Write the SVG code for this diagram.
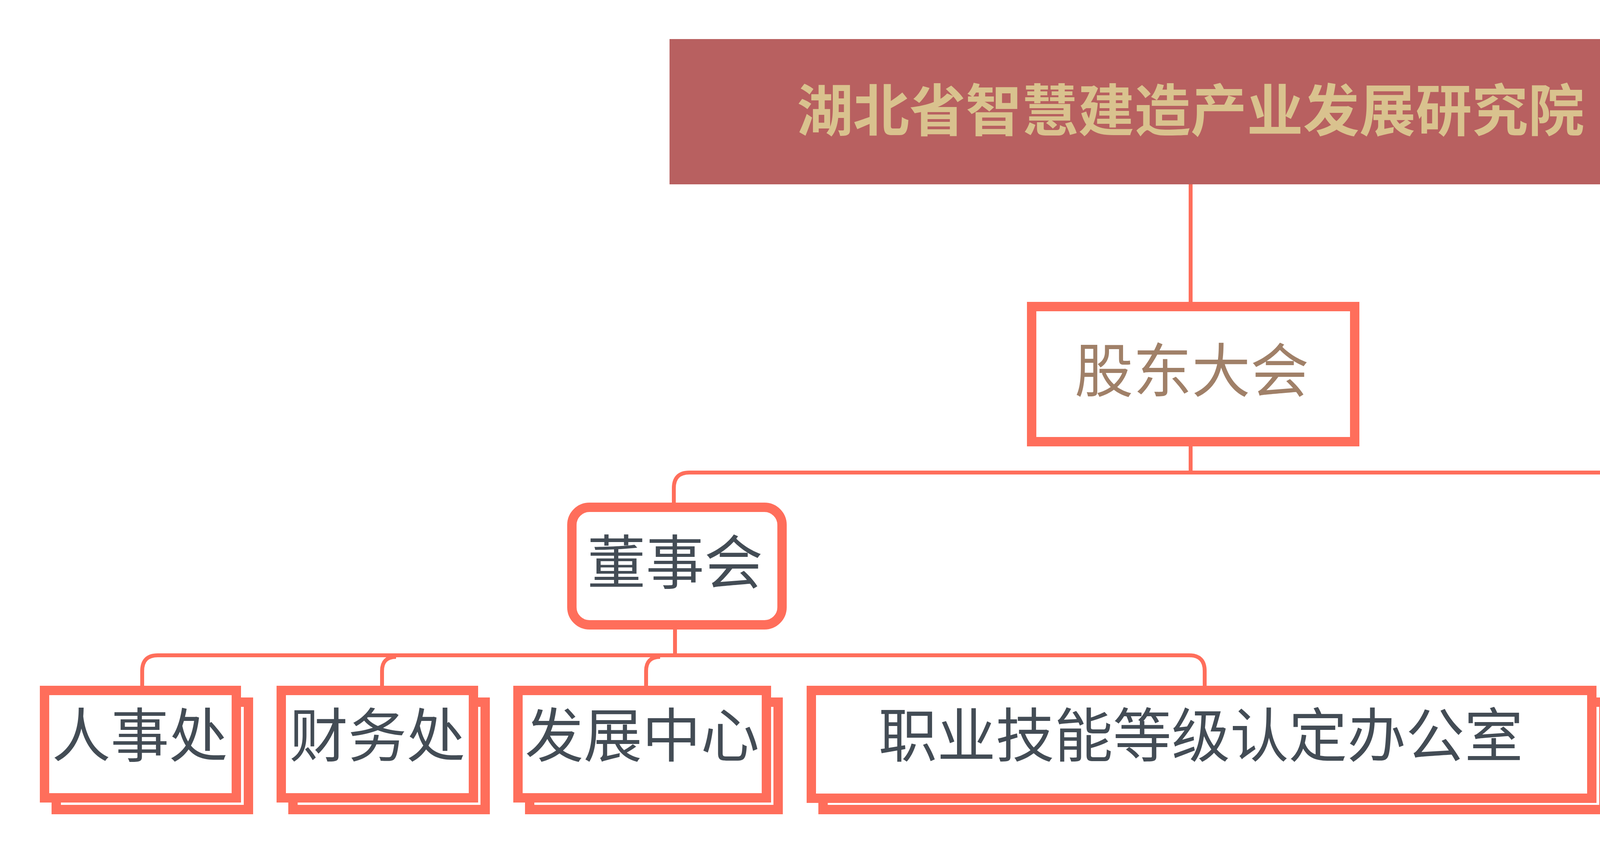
<svg xmlns="http://www.w3.org/2000/svg" width="4676" height="2174" viewBox="0 0 4676 2174">
<style>
.t{font-family:"Liberation Sans","Noto Sans CJK SC",sans-serif;font-size:150px;text-anchor:middle;fill:#434c55}
.b{fill:#fff;stroke:#ff6e5b;stroke-width:24}
.c{fill:none;stroke:#ff6e5b;stroke-width:10}
</style>
<rect width="4676" height="2174" fill="#fff"/>
<g id="connectors">
<path class="c" d="M3048,472V773M3048,1143V1210M1725,1288V1250Q1725,1210 1765,1210H4329Q4369,1210 4369,1250V1288"/>
<path class="c" d="M1728,1611V1678M364,1756V1718Q364,1678 404,1678H3044Q3084,1678 3084,1718V1756M978,1756V1718Q978,1682 1014,1682M1654,1756V1718Q1654,1682 1690,1682"/>
</g>
<g id="n0"><rect x="1714" y="100" width="2668" height="372" fill="#b86060"/><text class="t" x="3048" y="336" style="fill:#d9c28e;font-weight:bold;font-size:144px">湖北省智慧建造产业发展研究院</text></g>
<g id="n1"><rect class="b" x="2641" y="785" width="827" height="346"/><text class="t" x="3051" y="1004" style="fill:#a08068">股东大会</text></g>
<g id="n2"><rect class="b" x="1464" y="1299" width="538" height="301" rx="45"/><text class="t" x="1728" y="1495">董事会</text></g>
<g id="n3"><rect class="b" x="4178" y="1299" width="396" height="301" rx="45"/><text class="t" x="4372" y="1495">监事</text></g>
<g id="n4"><rect class="b" x="144" y="1798" width="492" height="275"/><rect class="b" x="114" y="1768" width="491" height="275"/><text class="t" x="358" y="1938">人事处</text></g>
<g id="n5"><rect class="b" x="750" y="1798" width="492" height="275"/><rect class="b" x="720" y="1768" width="492" height="275"/><text class="t" x="966" y="1938">财务处</text></g>
<g id="n6"><rect class="b" x="1356" y="1798" width="636" height="275"/><rect class="b" x="1326" y="1768" width="636" height="275"/><text class="t" x="1644" y="1938">发展中心</text></g>
<g id="n7"><rect class="b" x="2107" y="1798" width="1999" height="275"/><rect class="b" x="2077" y="1768" width="1998" height="276"/><text class="t" x="3074" y="1938">职业技能等级认定办公室</text></g>
</svg>
